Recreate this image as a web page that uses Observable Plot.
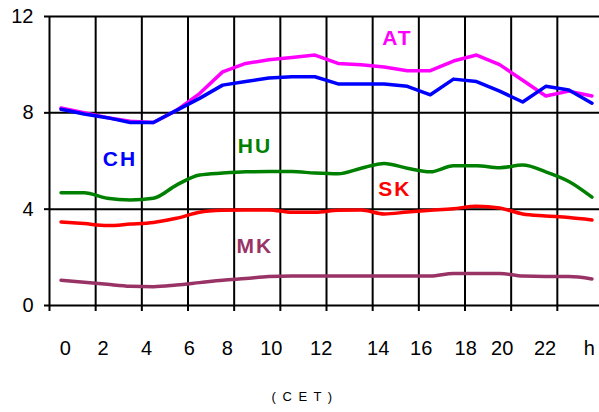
<!DOCTYPE html>
<html>
<head>
<meta charset="utf-8">
<script src="https://cdn.jsdelivr.net/npm/d3@7"></script>
<script src="https://cdn.jsdelivr.net/npm/@observablehq/plot@0.6"></script>
<style>
  html, body { margin: 0; padding: 0; background: #fff; }
  svg { font-family: "Liberation Sans", Arial, sans-serif; }
</style>
</head>
<body>
<div id="chart"></div>
<script>
// hours 0..23 (category index)
const hours = d3.range(24);
const AT = [8.2, 8.0, 7.8, 7.65, 7.6, 8.1, 8.8, 9.7, 10.05, 10.2, 10.3, 10.4, 10.05, 10.0, 9.9, 9.75, 9.75, 10.15, 10.4, 10.0, 9.35, 8.7, 8.9, 8.7];
const CH = [8.15, 7.95, 7.8, 7.6, 7.6, 8.1, 8.6, 9.15, 9.3, 9.45, 9.5, 9.5, 9.2, 9.2, 9.2, 9.1, 8.75, 9.4, 9.3, 8.9, 8.45, 9.1, 8.95, 8.4];
const HU = [4.68, 4.68, 4.45, 4.38, 4.45, 5.0, 5.42, 5.5, 5.55, 5.56, 5.56, 5.5, 5.47, 5.7, 5.9, 5.7, 5.55, 5.8, 5.8, 5.72, 5.83, 5.55, 5.15, 4.5];
const SK = [3.47, 3.4, 3.32, 3.38, 3.45, 3.62, 3.87, 3.95, 3.97, 3.97, 3.87, 3.87, 3.95, 3.97, 3.8, 3.88, 3.95, 4.02, 4.12, 4.05, 3.8, 3.72, 3.65, 3.55];
const MK = [1.05, 0.97, 0.88, 0.8, 0.78, 0.85, 0.95, 1.05, 1.12, 1.2, 1.22, 1.22, 1.22, 1.22, 1.22, 1.22, 1.22, 1.33, 1.33, 1.33, 1.22, 1.2, 1.2, 1.1];

const seriesNames = ["AT", "CH", "HU", "SK", "MK"];
const seriesColors = ["#ff00ff", "#0000ff", "#008000", "#ff0000", "#993366"];
const seriesValues = [AT, CH, HU, SK, MK];
const seriesCurves = ["linear", "linear", "monotone-x", "monotone-x", "monotone-x"];
// series label anchor (hour, value)
const labelHour = [14.57, 2.55, 8.4, 14.46, 8.4];
const labelValue = [11.11, 6.06, 6.6, 4.82, 2.47];

const yTicks = [0, 4, 8, 12];
const xGrid = d3.range(-0.5, 22, 2);
const xTickLabels = ["0", "2", "4", "6", "8", "10", "12", "14", "16", "18", "20", "22", "h"];
const xTickHours = [0.19, 1.82, 3.7, 5.56, 7.2, 9.11, 11.27, 13.74, 15.6, 17.53, 19.11, 20.97, 22.88];
const unitLabel = "( C E T )";

const lineMarks = seriesNames.map((name, s) =>
  Plot.line(hours, {
    x: d => d,
    y: (d, i) => seriesValues[s][i],
    stroke: seriesColors[s],
    strokeWidth: 3.5,
    curve: seriesCurves[s],
    strokeLinejoin: "round"
  })
);

const chart = Plot.plot({
  width: 599,
  height: 412,
  marginLeft: 49,
  marginRight: 0,
  marginTop: 16,
  marginBottom: 107,
  style: { fontFamily: "'Liberation Sans', Arial, sans-serif", background: "#fff" },
  x: { domain: [-0.5, 23.5], range: [49, 603], axis: null },
  y: { domain: [0, 12], axis: null },
  marks: [
    Plot.ruleY([4, 8, 12], { stroke: "#000", strokeWidth: 2 }),
    Plot.ruleX(xGrid, { y1: 0, y2: 12, stroke: "#000", strokeWidth: 2 }),
    Plot.ruleY([0], { stroke: "#000", strokeWidth: 2 }),
    Plot.axisX(xGrid, { tickSize: 6, tickFormat: () => "", strokeWidth: 2, stroke: "#000" }),
    Plot.axisY(yTicks, { tickSize: 5, tickPadding: 11, fontSize: 20, strokeWidth: 2, stroke: "#000", fill: "#000", tickFormat: d => String(d) }),
    ...lineMarks,
    Plot.text(xTickLabels, {
      x: (d, i) => xTickHours[i],
      frameAnchor: "bottom",
      dy: 49,
      fontSize: 20,
      fill: "#000"
    }),
    Plot.text([unitLabel], {
      frameAnchor: "bottom",
      dx: -22,
      dy: 95,
      fontSize: 13,
      fill: "#000"
    }),
    Plot.text(seriesNames, {
      x: (d, i) => labelHour[i],
      y: (d, i) => labelValue[i],
      fill: (d, i) => seriesColors[i],
      fontSize: 21,
      fontWeight: "bold"
    })
  ],
  color: { type: "identity" }
});

document.getElementById("chart").appendChild(chart);
d3.select(chart).selectAll("text").filter(function () { return this.textContent === unitLabel; })
  .attr("letter-spacing", "1.5px");
d3.select(chart).selectAll("text").filter(function () { return seriesNames.includes(this.textContent); })
  .attr("letter-spacing", "2px");
</script>
</body>
</html>
